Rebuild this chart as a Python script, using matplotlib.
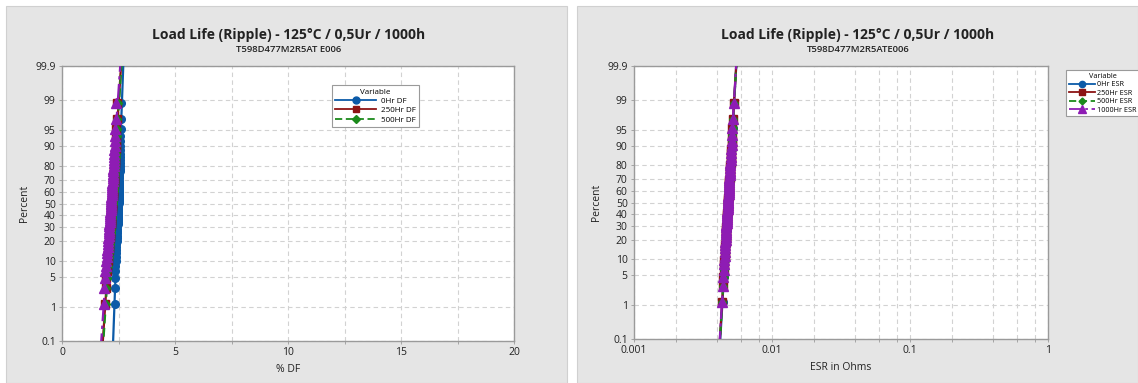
"""Load Life (Ripple) probability plots - DF and ESR."""

from statistics import NormalDist

import matplotlib

matplotlib.use("Agg")
import matplotlib.pyplot as plt
import numpy as np
from matplotlib.lines import Line2D
from matplotlib.patches import Rectangle
from matplotlib.ticker import FixedLocator, NullFormatter

plt.rcParams["font.family"] = ["Open Sans", "DejaVu Sans"]

# ---------------------------------------------------------------- data
TITLE = "Load Life (Ripple) - 125°C / 0,5Ur / 1000h"
SUB_DF = "T598D477M2R5AT E006"
SUB_ESR = "T598D477M2R5ATE006"

DF_LABELS = ["0Hr DF", "250Hr DF", "500Hr DF", "1000Hr DF"]
ESR_LABELS = ["0Hr ESR", "250Hr ESR", "500Hr ESR", "1000Hr ESR"]

df_0 = [2.33, 2.34, 2.35, 2.35, 2.36, 2.37, 2.38, 2.39, 2.40, 2.41, 2.41, 2.42,
        2.43, 2.43, 2.44, 2.44, 2.45, 2.45, 2.46, 2.46, 2.47, 2.47, 2.47, 2.48,
        2.48, 2.48, 2.49, 2.49, 2.49, 2.50, 2.50, 2.50, 2.51, 2.51, 2.51, 2.52,
        2.52, 2.52, 2.53, 2.53, 2.53, 2.54, 2.54, 2.54, 2.55, 2.55, 2.55, 2.56,
        2.56, 2.56, 2.57, 2.57, 2.58, 2.58, 2.58, 2.59, 2.60, 2.61]
df_250 = [1.90, 1.93, 1.96, 1.98, 2.00, 2.02, 2.04, 2.05, 2.07, 2.08, 2.09, 2.10,
          2.11, 2.12, 2.13, 2.14, 2.14, 2.15, 2.16, 2.16, 2.17, 2.18, 2.18, 2.19,
          2.19, 2.20, 2.21, 2.21, 2.22, 2.22, 2.23, 2.23, 2.24, 2.25, 2.25, 2.26,
          2.26, 2.27, 2.28, 2.28, 2.29, 2.29, 2.30, 2.31, 2.31, 2.32, 2.33, 2.34,
          2.34, 2.35, 2.36, 2.37, 2.38, 2.39, 2.40, 2.41, 2.43, 2.45]
df_500 = [1.93, 1.96, 1.98, 2.00, 2.02, 2.04, 2.06, 2.07, 2.08, 2.10, 2.11, 2.12,
          2.13, 2.14, 2.15, 2.15, 2.16, 2.17, 2.18, 2.18, 2.19, 2.20, 2.20, 2.21,
          2.21, 2.22, 2.23, 2.23, 2.24, 2.24, 2.25, 2.25, 2.26, 2.27, 2.27, 2.28,
          2.28, 2.29, 2.30, 2.30, 2.31, 2.31, 2.32, 2.33, 2.33, 2.34, 2.35, 2.36,
          2.36, 2.37, 2.38, 2.39, 2.40, 2.41, 2.42, 2.43, 2.44, 2.46]
df_1000 = [1.84, 1.87, 1.89, 1.91, 1.93, 1.95, 1.97, 1.99, 2.00, 2.02, 2.03, 2.04,
           2.05, 2.06, 2.07, 2.08, 2.09, 2.10, 2.10, 2.11, 2.12, 2.12, 2.13, 2.14,
           2.14, 2.15, 2.15, 2.16, 2.17, 2.17, 2.18, 2.18, 2.19, 2.20, 2.20, 2.21,
           2.21, 2.22, 2.23, 2.23, 2.24, 2.24, 2.25, 2.26, 2.27, 2.27, 2.28, 2.29,
           2.30, 2.30, 2.31, 2.32, 2.33, 2.34, 2.35, 2.36, 2.37, 2.40]

esr_0 = [0.00438, 0.00443, 0.00447, 0.00450, 0.00452, 0.00454, 0.00456, 0.00458,
         0.00460, 0.00461, 0.00463, 0.00464, 0.00465, 0.00467, 0.00468, 0.00469,
         0.00470, 0.00471, 0.00472, 0.00473, 0.00474, 0.00475, 0.00476, 0.00477,
         0.00478, 0.00479, 0.00480, 0.00481, 0.00482, 0.00483, 0.00484, 0.00485,
         0.00486, 0.00487, 0.00488, 0.00489, 0.00490, 0.00491, 0.00492, 0.00493,
         0.00494, 0.00495, 0.00496, 0.00497, 0.00499, 0.00500, 0.00501, 0.00503,
         0.00504, 0.00506, 0.00507, 0.00509, 0.00511, 0.00513, 0.00515, 0.00518,
         0.00521, 0.00527]
esr_250 = [0.00436, 0.00441, 0.00445, 0.00448, 0.00450, 0.00452, 0.00454, 0.00456,
           0.00458, 0.00459, 0.00461, 0.00462, 0.00463, 0.00465, 0.00466, 0.00467,
           0.00468, 0.00469, 0.00470, 0.00471, 0.00472, 0.00473, 0.00474, 0.00475,
           0.00476, 0.00477, 0.00478, 0.00479, 0.00480, 0.00481, 0.00482, 0.00483,
           0.00484, 0.00485, 0.00486, 0.00487, 0.00488, 0.00489, 0.00490, 0.00491,
           0.00492, 0.00493, 0.00494, 0.00496, 0.00497, 0.00498, 0.00500, 0.00501,
           0.00503, 0.00504, 0.00506, 0.00508, 0.00510, 0.00512, 0.00514, 0.00517,
           0.00520, 0.00528]
esr_500 = [0.00437, 0.00442, 0.00446, 0.00449, 0.00451, 0.00453, 0.00455, 0.00457,
           0.00458, 0.00460, 0.00461, 0.00463, 0.00464, 0.00465, 0.00467, 0.00468,
           0.00469, 0.00470, 0.00471, 0.00472, 0.00473, 0.00474, 0.00475, 0.00476,
           0.00477, 0.00478, 0.00479, 0.00480, 0.00481, 0.00482, 0.00483, 0.00484,
           0.00485, 0.00486, 0.00487, 0.00488, 0.00489, 0.00490, 0.00491, 0.00492,
           0.00493, 0.00494, 0.00495, 0.00497, 0.00498, 0.00499, 0.00501, 0.00502,
           0.00504, 0.00505, 0.00507, 0.00509, 0.00511, 0.00513, 0.00515, 0.00518,
           0.00521, 0.00529]
esr_1000 = [0.00435, 0.00440, 0.00444, 0.00447, 0.00449, 0.00451, 0.00453, 0.00455,
            0.00457, 0.00458, 0.00460, 0.00461, 0.00462, 0.00464, 0.00465, 0.00466,
            0.00467, 0.00468, 0.00469, 0.00470, 0.00471, 0.00472, 0.00473, 0.00474,
            0.00475, 0.00476, 0.00477, 0.00478, 0.00479, 0.00480, 0.00481, 0.00482,
            0.00483, 0.00484, 0.00485, 0.00486, 0.00487, 0.00488, 0.00489, 0.00490,
            0.00491, 0.00492, 0.00493, 0.00495, 0.00496, 0.00497, 0.00499, 0.00500,
            0.00502, 0.00503, 0.00505, 0.00507, 0.00509, 0.00511, 0.00513, 0.00516,
            0.00519, 0.00528]

PCT_TICKS = [0.1, 1, 5, 10, 20, 30, 40, 50, 60, 70, 80, 90, 95, 99, 99.9]
PCT_LABELS = ["0.1", "1", "5", "10", "20", "30", "40", "50", "60", "70", "80",
              "90", "95", "99", "99.9"]

# ---------------------------------------------------------------- style
COLORS = ["#0b5aa8", "#8c1414", "#1b8a1b", "#8e1cb4"]
MARKERS = ["o", "s", "D", "^"]
MSIZE = [5.5, 5.5, 4.5, 7.0]
LSTYLES = ["-", "-", (0, (4, 2)), (0, (7, 2, 1.5, 2))]
GRID = "#d2d2d2"
PANEL = "#e5e5e5"
FRAME = "#9a9a9a"
TXT = "#222222"

_nd = NormalDist()


def _fwd(p):
    p = np.clip(np.asarray(p, dtype=float), 1e-7, 100 - 1e-7)
    return np.vectorize(lambda v: _nd.inv_cdf(v / 100.0), otypes=[float])(p)


def _inv(z):
    z = np.asarray(z, dtype=float)
    return np.vectorize(lambda v: 100.0 * _nd.cdf(v), otypes=[float])(z)


def ranks(n):
    # median ranks (Benard), as Minitab uses
    i = np.arange(1, n + 1)
    return (i - 0.3) / (n + 0.4) * 100.0


def draw_series(ax, values, k, log=False):
    x = np.sort(np.asarray(values, dtype=float))
    y = ranks(len(x))
    zz = np.array([_nd.inv_cdf(0.00005), _nd.inv_cdf(0.99995)])
    if log:
        lx = np.log10(x)
        fit_x = 10 ** (lx.mean() + lx.std(ddof=1) * zz)
    else:
        fit_x = x.mean() + x.std(ddof=1) * zz
    ax.plot(fit_x, [0.005, 99.995], color=COLORS[k], lw=1.6, linestyle=LSTYLES[k],
            zorder=3 + k)
    ax.plot(x, y, linestyle="none", marker=MARKERS[k], ms=MSIZE[k], color=COLORS[k],
            mec=COLORS[k], zorder=3 + k)


def style_axes(ax):
    ax.set_yscale("function", functions=(_fwd, _inv))
    ax.set_ylim(0.1, 99.9)
    ax.yaxis.set_major_locator(FixedLocator(PCT_TICKS))
    ax.yaxis.set_minor_locator(FixedLocator([]))
    ax.set_yticklabels(PCT_LABELS)
    ax.set_facecolor("white")
    for s in ax.spines.values():
        s.set_color(FRAME)
        s.set_linewidth(1.0)
    ax.tick_params(axis="both", which="both", length=2.5, width=0.6, color=FRAME,
                   labelsize=7.5, pad=2, labelcolor=TXT)
    ax.grid(True, which="both", color=GRID, linestyle=(0, (4, 3)), linewidth=0.8)
    ax.set_axisbelow(True)
    ax.set_ylabel("Percent", fontsize=7.5, color=TXT, labelpad=4)


def legend_handles(labels, n, ms_shift=0.5):
    return [Line2D([], [], color=COLORS[k], lw=1.3, linestyle=LSTYLES[k],
                   marker=MARKERS[k], ms=MSIZE[k] - ms_shift, label=labels[k])
            for k in range(n)]


fig = plt.figure(figsize=(11.38, 3.83), dpi=100)
fig.patch.set_facecolor("white")
W, H = 1138.0, 383.0
for x0 in (6, 577):
    fig.patches.append(Rectangle((x0 / W, 0), 561 / W, 377 / H, transform=fig.transFigure,
                                 facecolor=PANEL, edgecolor="#d0d0d0", lw=0.8, zorder=-5))

# ---------------------------------------------------------------- left: DF
ax1 = fig.add_axes([62 / W, 1 - 341 / H, 452 / W, 275 / H])
style_axes(ax1)
for k, vals in enumerate([df_0, df_250, df_500, df_1000]):
    draw_series(ax1, vals, k)
ax1.set_xlim(0, 20)
ax1.set_xticks([0, 5, 10, 15, 20])
ax1.xaxis.set_minor_locator(FixedLocator([2.5, 7.5, 12.5, 17.5]))
ax1.set_xlabel("% DF", fontsize=7.5, color=TXT, labelpad=4)
leg1 = ax1.legend(handles=legend_handles(DF_LABELS, 3), title="Variable",
                  loc="upper left", bbox_to_anchor=(0.588, 0.945), fontsize=5.8,
                  title_fontsize=5.8, frameon=True, fancybox=False, edgecolor=FRAME,
                  borderpad=0.45, labelspacing=0.2, handlelength=5.0, handletextpad=0.6,
                  framealpha=1)
leg1.get_frame().set_linewidth(0.8)

fig.text(289 / W, 1 - 35 / H, TITLE, ha="center", va="center", fontsize=10,
         fontweight="bold", color=TXT)
fig.text(289 / W, 1 - 50 / H, SUB_DF, ha="center", va="center", fontsize=6.8,
         fontweight="semibold", color=TXT)

# ---------------------------------------------------------------- right: ESR
ax2 = fig.add_axes([634 / W, 1 - 339 / H, 414 / W, 273 / H])
style_axes(ax2)
for k, vals in enumerate([esr_0, esr_250, esr_500, esr_1000]):
    draw_series(ax2, vals, k, log=True)
ax2.set_xscale("log")
ax2.set_xlim(0.001, 1)
ax2.set_xticks([0.001, 0.01, 0.1, 1])
ax2.set_xticklabels(["0.001", "0.01", "0.1", "1"])
ax2.xaxis.set_minor_locator(FixedLocator(
    [m * d for d in (0.001, 0.01, 0.1) for m in (2, 4, 6, 8)]))
ax2.xaxis.set_minor_formatter(NullFormatter())
ax2.set_xlabel("ESR in Ohms", fontsize=7.5, color=TXT, labelpad=4)
leg2 = fig.legend(handles=legend_handles(ESR_LABELS, 4, ms_shift=1.0), title="Variable",
                  loc="upper left", bbox_to_anchor=(1066 / W, 1 - 70 / H),
                  bbox_transform=fig.transFigure, fontsize=5.2, title_fontsize=5.2,
                  frameon=True, fancybox=False, edgecolor=FRAME, borderpad=0.35,
                  labelspacing=0.2, handlelength=3.6, handletextpad=0.4,
                  borderaxespad=0, framealpha=1)
leg2.get_frame().set_linewidth(0.8)

fig.text(858 / W, 1 - 35 / H, TITLE, ha="center", va="center", fontsize=10,
         fontweight="bold", color=TXT)
fig.text(858 / W, 1 - 50 / H, SUB_ESR, ha="center", va="center", fontsize=6.8,
         fontweight="semibold", color=TXT)

fig.savefig("out.png", dpi=100, facecolor=fig.get_facecolor())
